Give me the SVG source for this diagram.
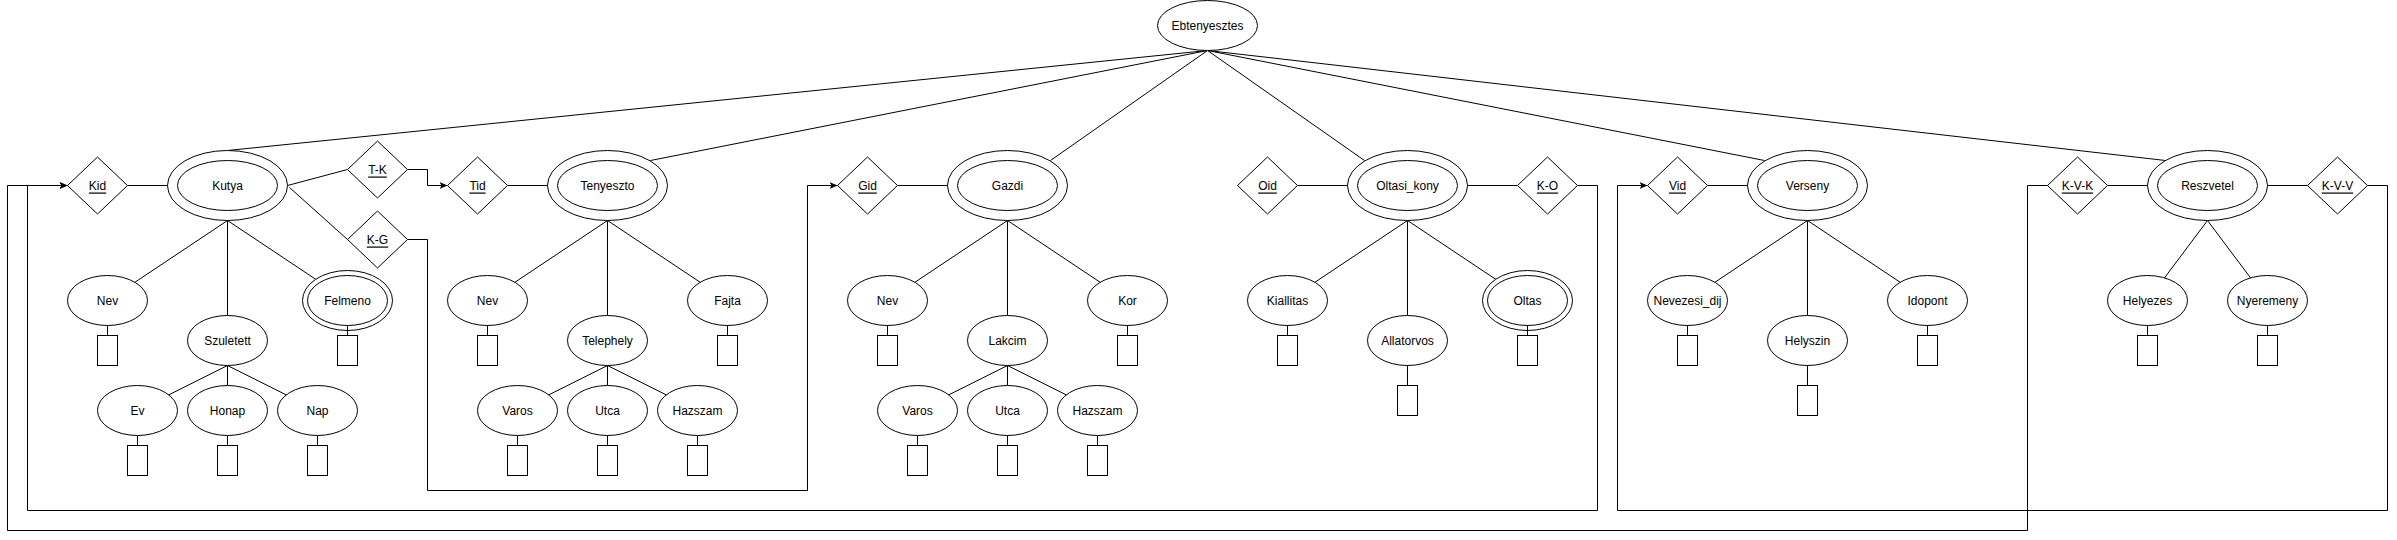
<svg xmlns="http://www.w3.org/2000/svg" width="2397" height="540" viewBox="0 0 2397 540">
<style>
.s{fill:#fff;stroke:#000;stroke-width:1}
.c{fill:none;stroke:#000;stroke-width:1}
text{font-family:"Liberation Sans",Arial,sans-serif;font-size:12px;fill:#000;text-anchor:middle;dominant-baseline:central}
.u{text-decoration:underline}
</style>
<defs>
<marker id="arr" markerUnits="userSpaceOnUse" markerWidth="9" markerHeight="8" refX="8" refY="3.5" orient="auto">
<path d="M0,0 L8,3.5 L0,7 L2,3.5 Z" fill="#000"/>
</marker>
</defs>
<rect width="2397" height="540" fill="#fff"/>
<g transform="translate(0.5,0.5)">
<g id="connectors" class="c">
<!-- root to entities -->
<path d="M1207,50 L227,150"/>
<path d="M1207,50 L650,160"/>
<path d="M1207,50 L1050,160"/>
<path d="M1207,50 L1364,160"/>
<path d="M1207,50 L1764,160"/>
<path d="M1207,50 L2165,160"/>
<!-- Kutya -->
<path d="M127,185 L167,185"/>
<path d="M287,185 L347,169"/>
<path d="M289,187 L347,239"/>
<path d="M227,220 L107,300"/>
<path d="M227,220 L227,315"/>
<path d="M227,220 L347,300"/>
<path d="M227,365 L137,410"/>
<path d="M227,365 L227,385"/>
<path d="M227,365 L317,410"/>
<path d="M107,325 L107,335"/>
<path d="M347,325 L347,335"/>
<path d="M137,435 L137,445"/>
<path d="M227,435 L227,445"/>
<path d="M317,435 L317,445"/>
<!-- relationships arrows -->
<path d="M407,169 L427,169 L427,185 L447,185" marker-end="url(#arr)"/>
<path d="M407,239 L427,239 L427,490 L807,490 L807,185 L837,185" marker-end="url(#arr)"/>
<path d="M1577,185 L1597,185 L1597,510 L27,510 L27,185 L67,185" marker-end="url(#arr)"/>
<path d="M2047,185 L2027,185 L2027,530 L7,530 L7,185 L67,185" marker-end="url(#arr)"/>
<path d="M2367,185 L2387,185 L2387,510 L1617,510 L1617,185 L1647,185" marker-end="url(#arr)"/>
<!-- Tenyeszto -->
<path d="M507,185 L547,185"/>
<path d="M607,220 L487,300"/>
<path d="M607,220 L607,315"/>
<path d="M607,220 L727,300"/>
<path d="M607,365 L517,410"/>
<path d="M607,365 L607,385"/>
<path d="M607,365 L697,410"/>
<path d="M487,325 L487,335"/>
<path d="M727,325 L727,335"/>
<path d="M517,435 L517,445"/>
<path d="M607,435 L607,445"/>
<path d="M697,435 L697,445"/>
<!-- Gazdi -->
<path d="M897,185 L947,185"/>
<path d="M1007,220 L887,300"/>
<path d="M1007,220 L1007,315"/>
<path d="M1007,220 L1127,300"/>
<path d="M1007,365 L917,410"/>
<path d="M1007,365 L1007,385"/>
<path d="M1007,365 L1097,410"/>
<path d="M887,325 L887,335"/>
<path d="M1127,325 L1127,335"/>
<path d="M917,435 L917,445"/>
<path d="M1007,435 L1007,445"/>
<path d="M1097,435 L1097,445"/>
<!-- Oltasi_kony -->
<path d="M1297,185 L1347,185"/>
<path d="M1467,185 L1517,185"/>
<path d="M1407,220 L1287,300"/>
<path d="M1407,220 L1407,315"/>
<path d="M1407,220 L1527,300"/>
<path d="M1287,325 L1287,335"/>
<path d="M1407,365 L1407,385"/>
<path d="M1527,325 L1527,335"/>
<!-- Verseny -->
<path d="M1707,185 L1747,185"/>
<path d="M1807,220 L1687,300"/>
<path d="M1807,220 L1807,315"/>
<path d="M1807,220 L1927,300"/>
<path d="M1687,325 L1687,335"/>
<path d="M1807,365 L1807,385"/>
<path d="M1927,325 L1927,335"/>
<!-- Reszvetel -->
<path d="M2107,185 L2147,185"/>
<path d="M2267,185 L2307,185"/>
<path d="M2207,220 L2147,300"/>
<path d="M2207,220 L2267,300"/>
<path d="M2147,325 L2147,335"/>
<path d="M2267,325 L2267,335"/>
</g>

<g id="Ebtenyesztes"><ellipse class="s" cx="1207" cy="25" rx="50" ry="25"/><text x="1207" y="25">Ebtenyesztes</text></g>

<!-- Kutya -->
<g id="Kid"><path class="s" d="M67,185 L97,156.5 L127,185 L97,213.5 Z"/><text class="u" x="97" y="185">Kid</text></g>
<g id="Kutya"><ellipse class="s" cx="227" cy="185" rx="60" ry="35"/><ellipse class="s" cx="227" cy="185" rx="50" ry="25"/><text x="227" y="185">Kutya</text></g>
<g id="TK"><path class="s" d="M347,169 L377,140.5 L407,169 L377,197.5 Z"/><text class="u" x="377" y="169">T-K</text></g>
<g id="KG"><path class="s" d="M347,239 L377,210.5 L407,239 L377,267.5 Z"/><text class="u" x="377" y="239">K-G</text></g>
<g id="K_Nev"><ellipse class="s" cx="107" cy="300" rx="40" ry="25"/><text x="107" y="300">Nev</text><rect class="s" x="97" y="335" width="20" height="30"/></g>
<g id="K_Szuletett"><ellipse class="s" cx="227" cy="340" rx="40" ry="25"/><text x="227" y="340">Szuletett</text></g>
<g id="K_Felmeno"><ellipse class="s" cx="347" cy="300" rx="45" ry="30"/><ellipse class="s" cx="347" cy="300" rx="40" ry="25"/><text x="347" y="300">Felmeno</text><path class="c" d="M347,325 L347,335"/><rect class="s" x="337" y="335" width="20" height="30"/></g>
<g id="K_Ev"><ellipse class="s" cx="137" cy="410" rx="40" ry="25"/><text x="137" y="410">Ev</text><rect class="s" x="127" y="445" width="20" height="30"/></g>
<g id="K_Honap"><ellipse class="s" cx="227" cy="410" rx="40" ry="25"/><text x="227" y="410">Honap</text><rect class="s" x="217" y="445" width="20" height="30"/></g>
<g id="K_Nap"><ellipse class="s" cx="317" cy="410" rx="40" ry="25"/><text x="317" y="410">Nap</text><rect class="s" x="307" y="445" width="20" height="30"/></g>

<!-- Tenyeszto -->
<g id="Tid"><path class="s" d="M447,185 L477,156.5 L507,185 L477,213.5 Z"/><text class="u" x="477" y="185">Tid</text></g>
<g id="Tenyeszto"><ellipse class="s" cx="607" cy="185" rx="60" ry="35"/><ellipse class="s" cx="607" cy="185" rx="50" ry="25"/><text x="607" y="185">Tenyeszto</text></g>
<g id="T_Nev"><ellipse class="s" cx="487" cy="300" rx="40" ry="25"/><text x="487" y="300">Nev</text><rect class="s" x="477" y="335" width="20" height="30"/></g>
<g id="T_Telephely"><ellipse class="s" cx="607" cy="340" rx="40" ry="25"/><text x="607" y="340">Telephely</text></g>
<g id="T_Fajta"><ellipse class="s" cx="727" cy="300" rx="40" ry="25"/><text x="727" y="300">Fajta</text><rect class="s" x="717" y="335" width="20" height="30"/></g>
<g id="T_Varos"><ellipse class="s" cx="517" cy="410" rx="40" ry="25"/><text x="517" y="410">Varos</text><rect class="s" x="507" y="445" width="20" height="30"/></g>
<g id="T_Utca"><ellipse class="s" cx="607" cy="410" rx="40" ry="25"/><text x="607" y="410">Utca</text><rect class="s" x="597" y="445" width="20" height="30"/></g>
<g id="T_Hazszam"><ellipse class="s" cx="697" cy="410" rx="40" ry="25"/><text x="697" y="410">Hazszam</text><rect class="s" x="687" y="445" width="20" height="30"/></g>

<!-- Gazdi -->
<g id="Gid"><path class="s" d="M837,185 L867,156.5 L897,185 L867,213.5 Z"/><text class="u" x="867" y="185">Gid</text></g>
<g id="Gazdi"><ellipse class="s" cx="1007" cy="185" rx="60" ry="35"/><ellipse class="s" cx="1007" cy="185" rx="50" ry="25"/><text x="1007" y="185">Gazdi</text></g>
<g id="G_Nev"><ellipse class="s" cx="887" cy="300" rx="40" ry="25"/><text x="887" y="300">Nev</text><rect class="s" x="877" y="335" width="20" height="30"/></g>
<g id="G_Lakcim"><ellipse class="s" cx="1007" cy="340" rx="40" ry="25"/><text x="1007" y="340">Lakcim</text></g>
<g id="G_Kor"><ellipse class="s" cx="1127" cy="300" rx="40" ry="25"/><text x="1127" y="300">Kor</text><rect class="s" x="1117" y="335" width="20" height="30"/></g>
<g id="G_Varos"><ellipse class="s" cx="917" cy="410" rx="40" ry="25"/><text x="917" y="410">Varos</text><rect class="s" x="907" y="445" width="20" height="30"/></g>
<g id="G_Utca"><ellipse class="s" cx="1007" cy="410" rx="40" ry="25"/><text x="1007" y="410">Utca</text><rect class="s" x="997" y="445" width="20" height="30"/></g>
<g id="G_Hazszam"><ellipse class="s" cx="1097" cy="410" rx="40" ry="25"/><text x="1097" y="410">Hazszam</text><rect class="s" x="1087" y="445" width="20" height="30"/></g>

<!-- Oltasi_kony -->
<g id="Oid"><path class="s" d="M1237,185 L1267,156.5 L1297,185 L1267,213.5 Z"/><text class="u" x="1267" y="185">Oid</text></g>
<g id="Oltasi_kony"><ellipse class="s" cx="1407" cy="185" rx="60" ry="35"/><ellipse class="s" cx="1407" cy="185" rx="50" ry="25"/><text x="1407" y="185">Oltasi_kony</text></g>
<g id="KO"><path class="s" d="M1517,185 L1547,156.5 L1577,185 L1547,213.5 Z"/><text class="u" x="1547" y="185">K-O</text></g>
<g id="O_Kiallitas"><ellipse class="s" cx="1287" cy="300" rx="40" ry="25"/><text x="1287" y="300">Kiallitas</text><rect class="s" x="1277" y="335" width="20" height="30"/></g>
<g id="O_Allatorvos"><ellipse class="s" cx="1407" cy="340" rx="40" ry="25"/><text x="1407" y="340">Allatorvos</text><rect class="s" x="1397" y="385" width="20" height="30"/></g>
<g id="O_Oltas"><ellipse class="s" cx="1527" cy="300" rx="45" ry="30"/><ellipse class="s" cx="1527" cy="300" rx="40" ry="25"/><text x="1527" y="300">Oltas</text><path class="c" d="M1527,325 L1527,335"/><rect class="s" x="1517" y="335" width="20" height="30"/></g>

<!-- Verseny -->
<g id="Vid"><path class="s" d="M1647,185 L1677,156.5 L1707,185 L1677,213.5 Z"/><text class="u" x="1677" y="185">Vid</text></g>
<g id="Verseny"><ellipse class="s" cx="1807" cy="185" rx="60" ry="35"/><ellipse class="s" cx="1807" cy="185" rx="50" ry="25"/><text x="1807" y="185">Verseny</text></g>
<g id="V_Nevezesi_dij"><ellipse class="s" cx="1687" cy="300" rx="40" ry="25"/><text x="1687" y="300">Nevezesi_dij</text><rect class="s" x="1677" y="335" width="20" height="30"/></g>
<g id="V_Helyszin"><ellipse class="s" cx="1807" cy="340" rx="40" ry="25"/><text x="1807" y="340">Helyszin</text><rect class="s" x="1797" y="385" width="20" height="30"/></g>
<g id="V_Idopont"><ellipse class="s" cx="1927" cy="300" rx="40" ry="25"/><text x="1927" y="300">Idopont</text><rect class="s" x="1917" y="335" width="20" height="30"/></g>

<!-- Reszvetel -->
<g id="KVK"><path class="s" d="M2047,185 L2077,156.5 L2107,185 L2077,213.5 Z"/><text class="u" x="2077" y="185">K-V-K</text></g>
<g id="Reszvetel"><ellipse class="s" cx="2207" cy="185" rx="60" ry="35"/><ellipse class="s" cx="2207" cy="185" rx="50" ry="25"/><text x="2207" y="185">Reszvetel</text></g>
<g id="KVV"><path class="s" d="M2307,185 L2337,156.5 L2367,185 L2337,213.5 Z"/><text class="u" x="2337" y="185">K-V-V</text></g>
<g id="R_Helyezes"><ellipse class="s" cx="2147" cy="300" rx="40" ry="25"/><text x="2147" y="300">Helyezes</text><rect class="s" x="2137" y="335" width="20" height="30"/></g>
<g id="R_Nyeremeny"><ellipse class="s" cx="2267" cy="300" rx="40" ry="25"/><text x="2267" y="300">Nyeremeny</text><rect class="s" x="2257" y="335" width="20" height="30"/></g>
</g>
</svg>
